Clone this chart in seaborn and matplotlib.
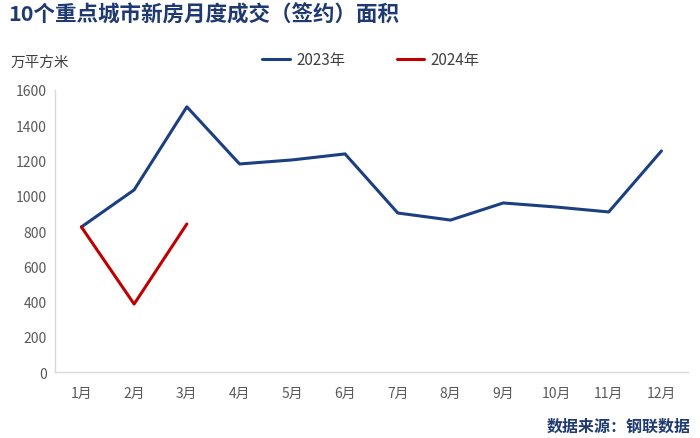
import matplotlib
matplotlib.use("Agg")
import matplotlib.pyplot as plt
import seaborn as sns
import pandas as pd

months = ["1月", "2月", "3月", "4月", "5月", "6月", "7月", "8月", "9月", "10月", "11月", "12月"]
vals_2023 = [823, 1033, 1504, 1180, 1203, 1237, 902, 862, 959, 936, 908, 1254]
vals_2024 = [823, 386, 840]
series_names = ["2023年", "2024年"]
yticks = [0, 200, 400, 600, 800, 1000, 1200, 1400, 1600]

sns.set_theme(style="white")
plt.rcParams['font.family'] = ['Noto Sans CJK SC', 'DejaVu Sans']

df = pd.concat([
    pd.DataFrame({"month": months, "value": vals_2023, "series": series_names[0]}),
    pd.DataFrame({"month": months[:len(vals_2024)], "value": vals_2024, "series": series_names[1]}),
])
df["x"] = df["month"].map({m: i for i, m in enumerate(months)})

fig = plt.figure(figsize=(7, 4.39), dpi=100)
ax = fig.add_axes([0.0786, 0.150, 0.904, 0.643])

palette = {series_names[0]: "#1B3F80", series_names[1]: "#C00000"}
sns.lineplot(data=df, x="x", y="value", hue="series", palette=palette, linewidth=2.2, ax=ax, legend=False, sort=False)

ax.set_xlim(-0.5, len(months) - 0.5)
ax.set_ylim(0, 1600)
ax.set_yticks(yticks)
ax.set_yticklabels([str(t) for t in yticks])
ax.set_xticks(range(len(months)))
ax.set_xticklabels(months)
ax.set_xlabel("")
ax.set_ylabel("")
ax.tick_params(axis="both", colors="#595959", labelsize=10, length=0)
ax.tick_params(axis="x", pad=10)
ax.tick_params(axis="y", pad=6)
for s in ["top", "right"]:
    ax.spines[s].set_visible(False)
for s in ["left", "bottom"]:
    ax.spines[s].set_color("#D9D9D9")
    ax.spines[s].set_linewidth(1.0)

from matplotlib.lines import Line2D
handles = [Line2D([], [], color=palette[n], linewidth=2.2) for n in series_names]
fig.legend(handles, series_names, loc="center", bbox_to_anchor=(0.53, 0.862), ncol=2,
           frameon=False, fontsize=11, handlelength=1.8, handletextpad=0.4, columnspacing=3.4,
           labelcolor="#404040")

fig.text(0.012, 0.965, "10个重点城市新房月度成交（签约）面积", fontsize=15.5, fontweight="bold",
         color="#1F3A70", ha="left", va="center")
fig.text(0.015, 0.857, "万平方米", fontsize=10.5, color="#404040", ha="left", va="center")
fig.text(0.986, 0.028, "数据来源：钢联数据", fontsize=11.5, fontweight="bold",
         color="#1F3A70", ha="right", va="center")

fig.savefig("out.png", dpi=100)
